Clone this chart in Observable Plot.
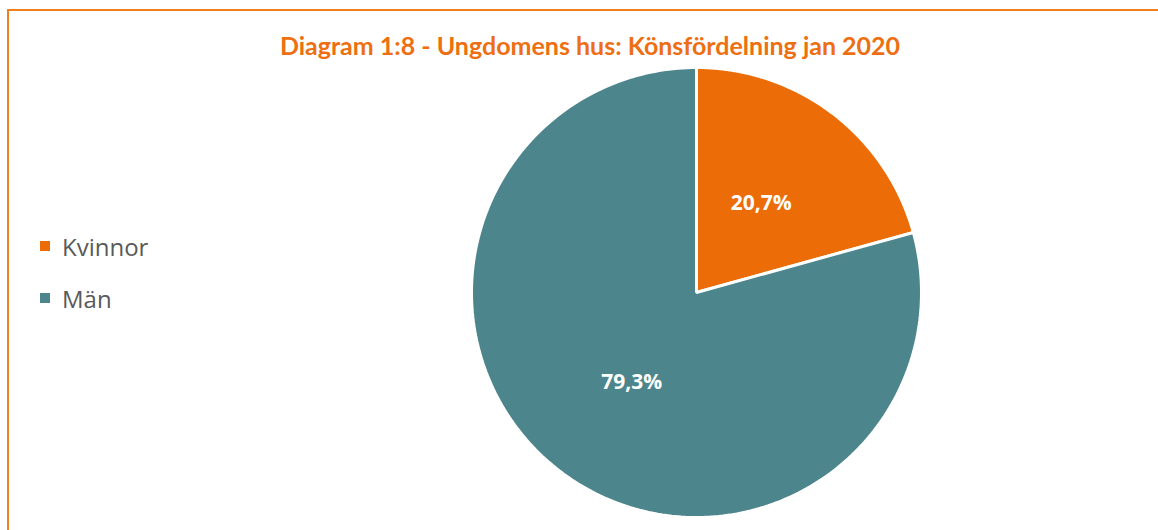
<!DOCTYPE html>
<html>
<head>
<meta charset="utf-8">
<script src="https://cdn.jsdelivr.net/npm/d3@7"></script>
<script src="https://cdn.jsdelivr.net/npm/@observablehq/plot@0.6"></script>
<style>
  html, body { margin: 0; padding: 0; background: #fff; overflow: hidden; }
  #wrap { position: relative; width: 1158px; height: 530px; }
  #frame { position: absolute; left: 7px; top: 9px; width: 1200px; height: 600px;
           border-top: 2px solid #F07F1E; border-left: 2px solid #F07F1E; box-sizing: border-box; }
  #title { position: absolute; left: 0; width: 1180px; top: 30px; text-align: center;
           font-family: Lato, "Open Sans", sans-serif; font-weight: 700; font-size: 25px; color: #EE6F12; }
  .leg { position: absolute; left: 40px; height: 30px; font-family: "Open Sans", Lato, sans-serif; font-size: 24px; color: #595959; display: flex; align-items: center; }
  .leg span.sw { display: inline-block; width: 10px; height: 10px; margin-right: 12px; }
  #chart { position: absolute; left: 0; top: 0; }
</style>
</head>
<body>
<div id="wrap">
  <div id="chart"></div>
  <div id="frame"></div>
  <div id="title">Diagram 1:8 - Ungdomens hus: Könsfördelning jan 2020</div>
  <div id="legend"></div>
</div>
<script>
const categories = ["Kvinnor", "Män"];
const values = [20.7, 79.3];
const labels = ["20,7%", "79,3%"];
const colors = ["#EC6C07", "#4C858C"];

// legend
const legend = document.getElementById("legend");
const legTops = [231, 283];
categories.forEach((c, i) => {
  const d = document.createElement("div");
  d.className = "leg";
  d.style.top = legTops[i] + "px";
  d.innerHTML = `<span class="sw" style="background:${colors[i]}"></span>${c}`;
  legend.appendChild(d);
});

// pie geometry from data
const pie = d3.pie().sort(null).value(d => d.value)(categories.map((c, i) => ({cat: c, value: values[i], label: labels[i]})));
const polys = [];
const centroids = [];
const labelR = 0.5;
pie.forEach(p => {
  const n = 240;
  polys.push({cat: p.data.cat, x: 0, y: 0});
  for (let k = 0; k <= n; k++) {
    const a = p.startAngle + (p.endAngle - p.startAngle) * k / n;
    polys.push({cat: p.data.cat, x: Math.sin(a), y: Math.cos(a)});
  }
  const m = (p.startAngle + p.endAngle) / 2;
  centroids.push({cat: p.data.cat, label: p.data.label, x: labelR * Math.sin(m) * 0.95, y: labelR * Math.cos(m)});
});

const chart = Plot.plot({
  width: 1158,
  height: 530,
  margin: 0,
  x: {domain: [-1, 1], range: [471, 921], axis: null},
  y: {domain: [-1, 1], range: [517, 67], axis: null},
  color: {domain: categories, range: colors},
  marks: [
    Plot.line(polys, {x: "x", y: "y", z: "cat", fill: "cat", stroke: "white", strokeWidth: 3, curve: "linear-closed", strokeLinejoin: "miter"}),
    Plot.text(centroids, {x: "x", y: "y", text: "label", fill: "white", fontWeight: "bold", fontSize: 21, fontFamily: "'Open Sans', Lato, sans-serif"})
  ]
});
document.getElementById("chart").appendChild(chart);
</script>
</body>
</html>
